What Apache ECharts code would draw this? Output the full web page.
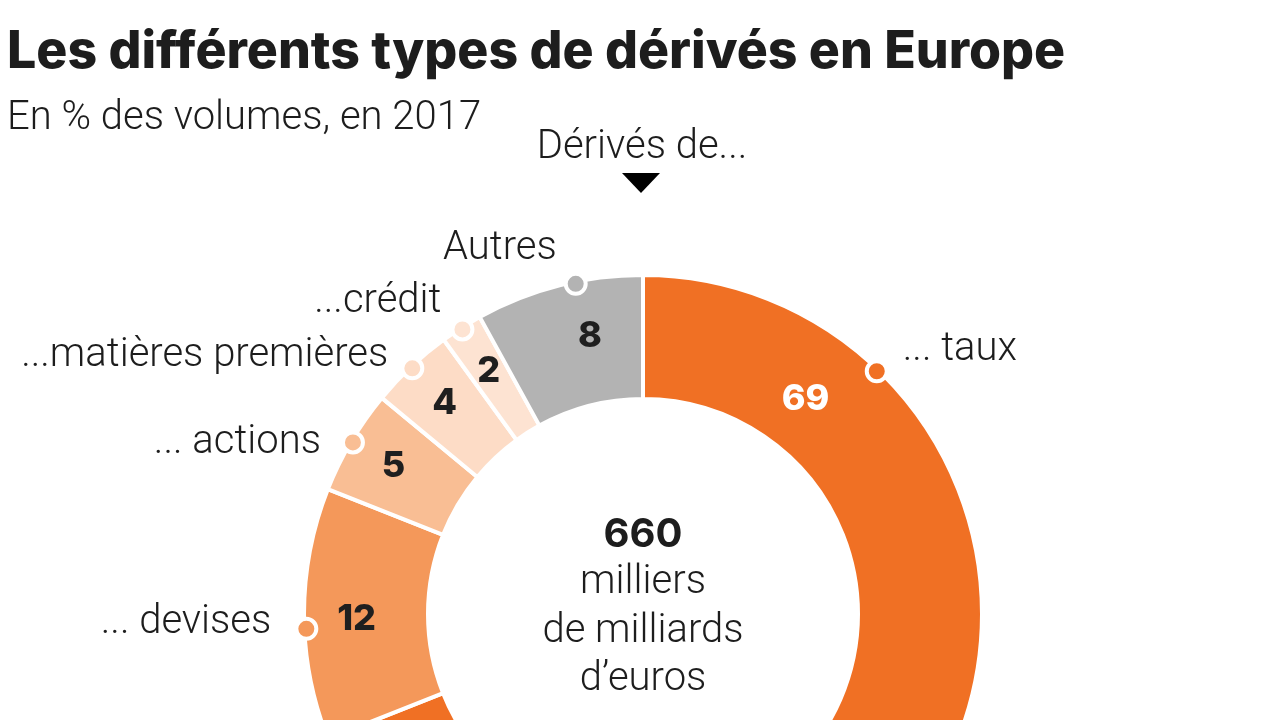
<!DOCTYPE html>
<html>
<head>
<meta charset="utf-8">
<script src="https://cdn.jsdelivr.net/npm/echarts@6/dist/echarts.min.js"></script>
<style>
html,body{margin:0;padding:0;background:#fff;}
#chart{width:1280px;height:720px;}
</style>
</head>
<body>
<div id="chart"></div>
<script>
// ---- data ----
const categories = ['... taux', '... devises', '... actions', '...matières premières', '...crédit', 'Autres'];
const values = [69, 12, 5, 4, 2, 8];
const totalLabel = ['660', 'milliers', 'de milliards', 'd\u2019euros'];
const titleText = 'Les différents types de dérivés en Europe';
const subtitleText = 'En % des volumes, en 2017';
const headerText = 'Dérivés de...';

// ---- styles / layout ----
const colors = ['#F07024', '#F4985A', '#F9BE94', '#FDDCC6', '#FDE3D2', '#B3B3B3'];
const valueColors = ['#ffffff', '#1f1f1f', '#1f1f1f', '#1f1f1f', '#1f1f1f', '#1f1f1f'];
const CX = 643, CY = 614, R_IN = 217, R_OUT = 337;
const LIGHT = 'Roboto';
const DARK = '#1d1d1d';
// label anchors along the ring (in % of the circle); null = middle of the slice
const dotAnchor = [12.2, 74.3, null, null, null, 96.8];
const valueAnchor = [10.3, 74.7, null, null, null, 97];
const valueRadius = [0.80, 0.85, 0.86, 0.86, 0.855, 0.84];
const namePos = ['right', 'left', 'left', 'left', 'left', 'left'];
const nameOffset = [[9, -21], [-18, -6], [-15, 1], [-7, -12], [-4, -27], [-2, -35]];

const total = values.reduce((a, b) => a + b, 0);
let cum = 0;
const mids = values.map(v => { const m = cum + v / 2; cum += v; return m / total * 100; });

const dotData = values.map((v, i) => ({
  name: categories[i],
  value: [1, dotAnchor[i] != null ? dotAnchor[i] : mids[i]],
  itemStyle: { color: colors[i] },
  label: { position: namePos[i], offset: nameOffset[i] }
}));
const valData = values.map((v, i) => ({
  name: String(v),
  value: [valueRadius[i], valueAnchor[i] != null ? valueAnchor[i] : mids[i]],
  label: { color: valueColors[i] }
}));

const chart = echarts.init(document.getElementById('chart'), null, { renderer: 'canvas' });
chart.setOption({
  backgroundColor: '#fff',
  animation: false,
  polar: { center: [CX, CY], radius: R_OUT },
  angleAxis: { type: 'value', min: 0, max: 100, startAngle: 90, clockwise: true, show: false },
  radiusAxis: { type: 'value', min: 0, max: 1, show: false },
  graphic: [
    { type: 'text', left: 7, top: 26, style: { text: titleText, font: '800 51.8px Inter', fill: DARK } },
    { type: 'text', left: 7, top: 99, style: { text: subtitleText, font: '300 40px ' + LIGHT, fill: DARK } },
    { type: 'text', x: 642, y: 148, style: { text: headerText, font: '300 40px ' + LIGHT, fill: DARK, textAlign: 'center', textVerticalAlign: 'middle' } },
    { type: 'polygon', shape: { points: [[622, 173], [660, 173], [641, 193]] }, style: { fill: '#000' } },
    { type: 'text', x: CX, y: 535, style: { text: totalLabel[0], font: 'bold 40px Inter', fill: DARK, textAlign: 'center', textVerticalAlign: 'middle' } },
    { type: 'text', x: CX, y: 583, style: { text: totalLabel[1], font: '300 40px ' + LIGHT, fill: DARK, textAlign: 'center', textVerticalAlign: 'middle' } },
    { type: 'text', x: CX, y: 632, style: { text: totalLabel[2], font: '300 40px ' + LIGHT, fill: DARK, textAlign: 'center', textVerticalAlign: 'middle' } },
    { type: 'text', x: CX, y: 680, style: { text: totalLabel[3], font: '300 40px ' + LIGHT, fill: DARK, textAlign: 'center', textVerticalAlign: 'middle' } }
  ],
  series: [
    {
      type: 'pie',
      center: [CX, CY],
      radius: [R_IN - 2, R_OUT + 2],
      startAngle: 90,
      clockwise: true,
      silent: true,
      label: { show: false },
      labelLine: { show: false },
      itemStyle: { borderColor: '#fff', borderWidth: 4 },
      data: values.map((v, i) => ({ name: categories[i], value: v, itemStyle: { color: colors[i] } }))
    },
    {
      type: 'scatter',
      coordinateSystem: 'polar',
      symbol: 'circle',
      symbolSize: 20,
      silent: true,
      itemStyle: { borderColor: '#fff', borderWidth: 4, opacity: 1 },
      label: {
        show: true,
        formatter: p => p.name,
        distance: 5,
        fontFamily: LIGHT, fontWeight: 300, fontSize: 40, color: DARK
      },
      data: dotData,
      z: 5
    },
    {
      type: 'scatter',
      coordinateSystem: 'polar',
      symbolSize: 0,
      silent: true,
      itemStyle: { opacity: 1 },
      label: {
        show: true, position: 'inside', opacity: 1,
        formatter: p => p.name,
        fontFamily: 'Inter', fontWeight: 800, fontSize: 36
      },
      data: valData,
      z: 6
    }
  ]
});
</script>
</body>
</html>
